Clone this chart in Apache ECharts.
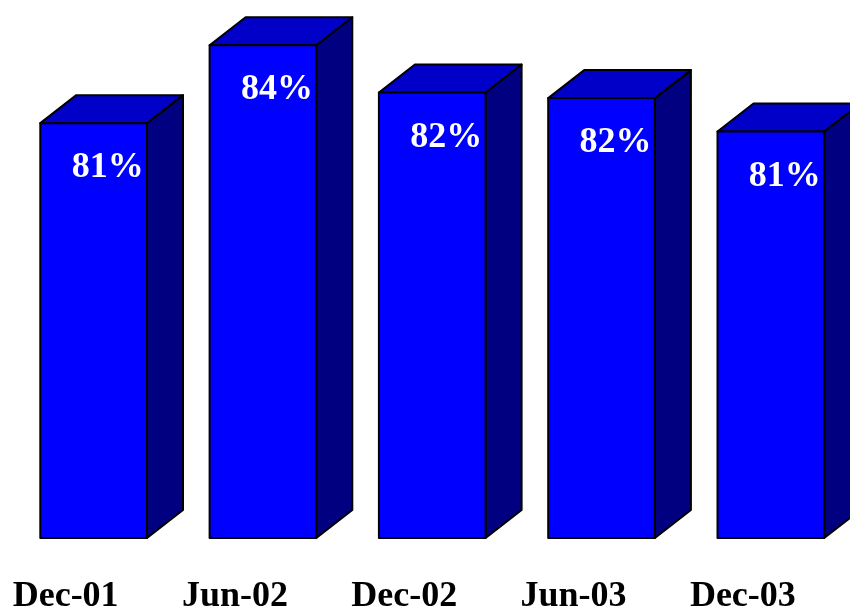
<!DOCTYPE html>
<html>
<head>
<meta charset="utf-8">
<script src="https://cdn.jsdelivr.net/npm/echarts@6/dist/echarts.min.js"></script>
<style>
html,body{margin:0;padding:0;background:#fff;overflow:hidden;}
#main{width:860px;height:615px;}
</style>
</head>
<body>
<div id="main"></div>
<script>
var categories = ['Dec-01', 'Jun-02', 'Dec-02', 'Jun-03', 'Dec-03'];
var values = [80.9, 83.7, 82.0, 81.8, 80.6];

var Y_MIN = 66, Y_MAX = 85;
var FRONT_W = 106.7, DX = 36, DY = 28;
var FONT = '"Liberation Serif", "Times New Roman", serif';

var chart = echarts.init(document.getElementById('main'), null, {renderer: 'canvas', width: 860, height: 615});

function renderItem(params, api) {
  var i = api.value(0), v = api.value(1);
  var p = api.coord([i, v]);
  var b = api.coord([i, Y_MIN]);
  var x0 = p[0] - FRONT_W / 2, x1 = p[0] + FRONT_W / 2;
  var top = p[1], bot = b[1];
  var stroke = {stroke: '#000', lineWidth: 2, lineJoin: 'round'};
  return {
    type: 'group',
    children: [
      {type: 'polygon', shape: {points: [[x1, top], [x1 + DX, top - DY], [x1 + DX, bot - DY], [x1, bot]]},
        style: Object.assign({fill: '#000080'}, stroke)},
      {type: 'polygon', shape: {points: [[x0, top], [x0 + DX, top - DY], [x1 + DX, top - DY], [x1, top]]},
        style: Object.assign({fill: '#0000C8'}, stroke)},
      {type: 'rect', shape: {x: x0, y: top, width: FRONT_W, height: bot - top},
        style: Object.assign({fill: '#0000FF'}, stroke)},
      {type: 'text', x: p[0] + 14, y: top + 45,
        style: {text: Math.round(v) + '%', fill: '#fff', font: 'bold 36px ' + FONT,
          align: 'center', verticalAlign: 'middle'}}
    ]
  };
}

chart.setOption({
  animation: false,
  backgroundColor: '#fff',
  grid: {left: 9, width: 846.5, top: 9, height: 532, containLabel: false},
  xAxis: {
    type: 'category',
    data: categories,
    axisLine: {show: false},
    axisTick: {show: false},
    axisLabel: {
      margin: 41,
      color: '#000',
      fontFamily: FONT,
      fontWeight: 'bold',
      fontSize: 36,
      padding: [0, 56, 0, 0]
    }
  },
  yAxis: {type: 'value', min: Y_MIN, max: Y_MAX, show: false, splitLine: {show: false}},
  series: [{
    type: 'custom',
    renderItem: renderItem,
    clip: false,
    data: values.map(function (v, i) { return [i, v]; })
  }]
});
</script>
</body>
</html>
